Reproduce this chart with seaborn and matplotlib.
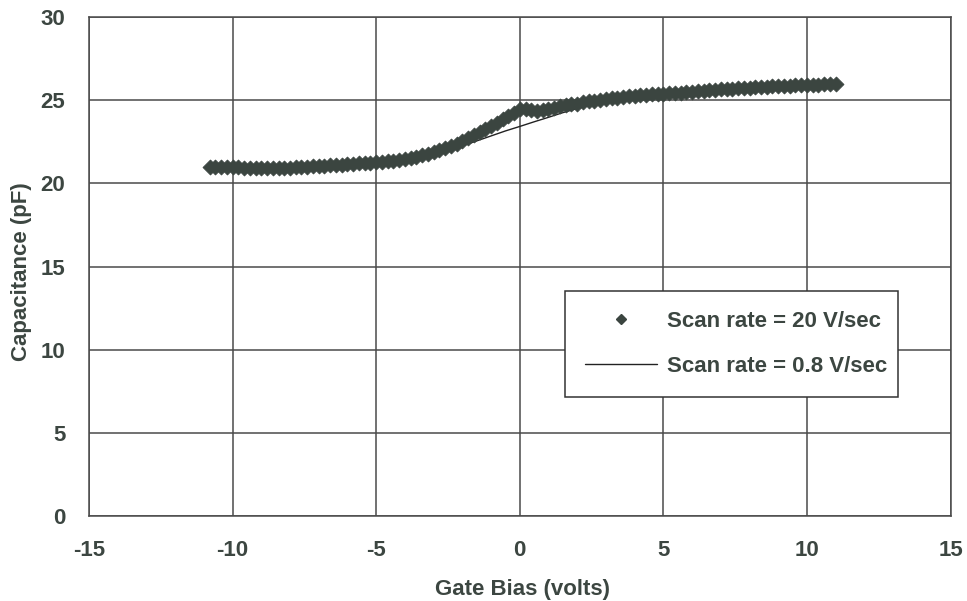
import matplotlib
matplotlib.use("Agg")
import matplotlib.pyplot as plt
from matplotlib.lines import Line2D
import seaborn as sns
import pandas as pd

fast_bias = [-10.8, -10.6, -10.4, -10.2, -10.0, -9.8, -9.6, -9.4, -9.2, -9.0,
             -8.8, -8.6, -8.4, -8.2, -8.0, -7.8, -7.6, -7.4, -7.2, -7.0,
             -6.8, -6.6, -6.4, -6.2, -6.0, -5.8, -5.6, -5.4, -5.2, -5.0,
             -4.8, -4.6, -4.4, -4.2, -4.0, -3.8, -3.6, -3.4, -3.2, -3.0,
             -2.8, -2.6, -2.4, -2.2, -2.0, -1.8, -1.6, -1.4, -1.2, -1.0,
             -0.8, -0.6, -0.4, -0.2, 0.0, 0.2, 0.4, 0.6, 0.8, 1.0,
             1.2, 1.4, 1.6, 1.8, 2.0, 2.2, 2.4, 2.6, 2.8, 3.0,
             3.2, 3.4, 3.6, 3.8, 4.0, 4.2, 4.4, 4.6, 4.8, 5.0,
             5.2, 5.4, 5.6, 5.8, 6.0, 6.2, 6.4, 6.6, 6.8, 7.0,
             7.2, 7.4, 7.6, 7.8, 8.0, 8.2, 8.4, 8.6, 8.8, 9.0,
             9.2, 9.4, 9.6, 9.8, 10.0, 10.2, 10.4, 10.6, 10.8, 11.0]
fast_cap = [21.00, 21.00, 20.98, 21.00, 20.97, 20.96, 20.95, 20.93, 20.92, 20.90,
            20.92, 20.90, 20.93, 20.92, 20.95, 20.97, 20.98, 21.00, 21.03, 21.05,
            21.07, 21.08, 21.10, 21.12, 21.15, 21.17, 21.20, 21.22, 21.25, 21.28,
            21.30, 21.33, 21.37, 21.42, 21.48, 21.53, 21.60, 21.68, 21.77, 21.87,
            21.98, 22.10, 22.23, 22.38, 22.55, 22.72, 22.90, 23.08, 23.27, 23.45,
            23.65, 23.85, 24.05, 24.25, 24.45, 24.45, 24.38, 24.35, 24.40, 24.47,
            24.55, 24.62, 24.70, 24.75, 24.80, 24.87, 24.93, 24.98, 25.03, 25.07,
            25.12, 25.16, 25.20, 25.23, 25.26, 25.29, 25.32, 25.35, 25.37, 25.40,
            25.42, 25.44, 25.46, 25.48, 25.50, 25.53, 25.56, 25.59, 25.62, 25.65,
            25.67, 25.69, 25.71, 25.73, 25.75, 25.77, 25.79, 25.81, 25.83, 25.85,
            25.87, 25.88, 25.89, 25.90, 25.92, 25.93, 25.94, 25.95, 25.96, 25.97]

slow_bias = [-10.8, -10.0, -9.0, -8.0, -7.0, -6.0, -5.0, -4.0, -3.5, -3.0,
             -2.5, -2.0, -1.5, -1.0, -0.5, 0.0, 0.5, 1.0, 1.5, 2.0,
             2.5, 3.0, 3.5, 4.0, 5.0, 6.0, 7.0, 8.0, 9.0, 10.0, 11.0]
slow_cap = [21.00, 20.97, 20.90, 20.95, 21.05, 21.15, 21.28, 21.47, 21.60, 21.80,
            22.00, 22.25, 22.55, 22.85, 23.15, 23.42, 23.70, 23.97, 24.25, 24.50,
            24.75, 24.98, 25.15, 25.26, 25.40, 25.50, 25.65, 25.75, 25.85, 25.92, 25.97]

label_fast = "Scan rate = 20 V/sec"
label_slow = "Scan rate = 0.8 V/sec"
x_ticks = [-15, -10, -5, 0, 5, 10, 15]
y_ticks = [0, 5, 10, 15, 20, 25, 30]
x_title = "Gate Bias (volts)"
y_title = "Capacitance (pF)"

sns.set_style("white")
plt.rcParams['font.family'] = ['Liberation Sans', 'DejaVu Sans']

txt = "#3c4641"
mk = "#3b4540"
grid = "#4a4a4a"
FS = 16

fast_df = pd.DataFrame({"bias": fast_bias, "cap": fast_cap})
slow_df = pd.DataFrame({"bias": slow_bias, "cap": slow_cap})

fig = plt.figure(figsize=(9.67, 6.01), dpi=100)
ax = fig.add_axes([0.092, 0.1414, 0.891, 0.8303])

sns.lineplot(data=slow_df, x="bias", y="cap", ax=ax, color="#222222",
             linewidth=1.0, zorder=3, sort=False)
sns.scatterplot(data=fast_df, x="bias", y="cap", ax=ax, marker="D", s=58,
                color=mk, edgecolor=mk, linewidth=0.6, zorder=4)

ax.set_xlim(-15, 15)
ax.set_ylim(0, 30)
ax.set_xticks(x_ticks)
ax.set_yticks(y_ticks)
ax.set_xticklabels([str(t) for t in x_ticks])
ax.set_yticklabels([str(t) for t in y_ticks])
ax.grid(True, color=grid, linewidth=1.1)
ax.set_axisbelow(True)
for s in ax.spines.values():
    s.set_color(grid)
    s.set_linewidth(1.1)

ax.tick_params(axis='x', direction='out', length=7, width=1.1, color=grid,
               pad=10, labelsize=FS, labelcolor=txt)
ax.tick_params(axis='y', length=0, pad=17, labelsize=FS, labelcolor=txt)
for lab in ax.get_xticklabels() + ax.get_yticklabels():
    lab.set_fontweight('bold')

ax.set_xlabel(x_title, fontsize=FS, fontweight='bold', color=txt)
ax.set_ylabel(y_title, fontsize=FS, fontweight='bold', color=txt)
ax.xaxis.set_label_coords(0.503, -0.148)
ax.yaxis.set_label_coords(-0.078, 0.49)
ax.xaxis.label.set_va('center')
ax.yaxis.label.set_va('center')

handles = [Line2D([], [], marker='D', color=mk, linestyle='none', markersize=5),
           Line2D([], [], color='#222222', linewidth=1.0)]
leg = ax.legend(handles, [label_fast, label_slow], loc='lower left',
                bbox_to_anchor=(0.552, 0.2385, 0.3865, 0.2125), mode='expand',
                fancybox=False, framealpha=1, edgecolor='#333333',
                prop={'family': 'Liberation Sans', 'weight': 'bold', 'size': FS},
                labelcolor=txt, handlelength=3.25, labelspacing=1.08,
                borderpad=0.9, handletextpad=0.45, borderaxespad=0)
leg.get_frame().set_linewidth(1.1)

fig.savefig("out.png", dpi=100)
